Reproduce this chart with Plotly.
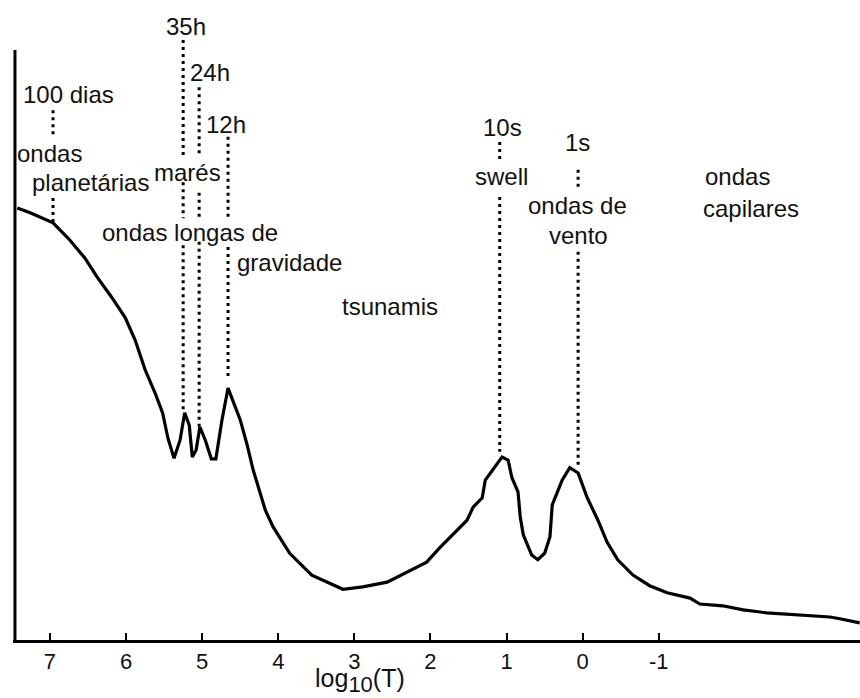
import plotly.graph_objects as go

# Ocean wave energy spectrum (arbitrary energy units) vs log10(period in s)
log_period = [7.43, 7.26, 6.96, 6.74, 6.54, 6.38, 6.19, 6.01, 5.88, 5.75, 5.62, 5.52,
              5.45, 5.37, 5.29, 5.23, 5.17, 5.13, 5.08, 5.03, 4.96, 4.88, 4.82, 4.74,
              4.66, 4.58, 4.50, 4.41, 4.33, 4.17, 4.07, 3.85, 3.56, 3.15, 2.89, 2.57,
              2.31, 2.05, 1.88, 1.74, 1.52, 1.44, 1.32, 1.28, 1.18, 1.06, 0.98, 0.93,
              0.85, 0.82, 0.78, 0.67, 0.59, 0.50, 0.43, 0.40, 0.27, 0.17, 0.06, -0.06,
              -0.20, -0.32, -0.46, -0.66, -0.88, -1.11, -1.41, -1.54, -1.84, -2.11,
              -2.42, -3.25, -3.38, -3.64]
energy = [73.2, 72.4, 70.7, 67.8, 64.7, 61.5, 58.1, 54.6, 50.8, 45.8, 41.9, 38.5,
          34.2, 30.8, 33.9, 38.5, 36.4, 31.0, 32.2, 36.1, 33.9, 30.7, 30.7, 37.3,
          42.7, 39.8, 37.3, 33.1, 28.8, 22.0, 19.2, 14.7, 11.0, 8.6, 9.0, 9.8,
          11.5, 13.2, 15.6, 17.5, 20.3, 22.5, 24.1, 27.1, 28.8, 31.0, 30.5, 27.5,
          25.1, 20.8, 17.8, 14.4, 13.6, 14.7, 17.5, 22.9, 27.1, 29.2, 28.3, 24.1,
          20.3, 16.6, 13.6, 11.0, 9.2, 8.0, 7.1, 6.1, 5.8, 5.1,
          4.6, 3.9, 3.6, 2.9]

tick_values = [7, 6, 5, 4, 3, 2, 1, 0, -1]
tick_labels = ["7", "6", "5", "4", "3", "2", "1", "0", "-1"]

# Dotted reference lines: period position and visible segments (energy from, to)
ref_x = [6.96, 5.25, 5.04, 4.66, 1.09, 0.06]
ref_segments = [
    [(89.8, 85.3), (74.9, 70.8)],
    [(101.7, 81.9), (77.6, 71.5), (66.9, 38.6)],
    [(93.7, 82.2), (75.8, 71.7), (67.5, 36.1)],
    [(85.3, 71.5), (66.6, 44.6)],
    [(84.4, 81.4), (75.1, 31.9)],
    [(79.7, 76.6), (65.8, 29.7)],
]

# Text labels
label_text = ["100 dias", "ondas", "planetárias", "35h", "24h", "12h", "marés",
              "ondas longas de", "gravidade", "tsunamis", "10s", "swell", "1s",
              "ondas de", "vento", "ondas", "capilares"]
label_x = [6.76, 7.00, 6.47, 5.21, 4.90, 4.69, 5.19, 5.16, 3.85, 2.53, 1.06, 1.07,
           0.07, 0.07, 0.06, -2.03, -2.21]
label_y = [92.4, 82.5, 77.6, 103.9, 96.1, 87.3, 79.3, 69.0, 63.9, 56.6, 86.9, 78.5,
           84.4, 73.7, 68.6, 78.5, 73.2]

FONT = "Liberation Sans, Arial, sans-serif"
X_LEFT, X_RIGHT = 7.486, -3.644
Y_TOP = 105.08
AXIS_X = 7.46
AXIS_TOP = 100

fig = go.Figure()

for x, segs in zip(ref_x, ref_segments):
    xs, ys = [], []
    for (a, b) in segs:
        xs += [x, x, None]
        ys += [a, b, None]
    fig.add_trace(go.Scatter(x=xs, y=ys, mode="lines",
                             line=dict(color="black", width=3, dash="3px,4px"),
                             hoverinfo="skip", showlegend=False))

fig.add_trace(go.Scatter(x=log_period, y=energy, mode="lines",
                         line=dict(color="black", width=3.2),
                         showlegend=False))

# left axis line (only up to the top of the frame)
fig.add_trace(go.Scatter(x=[AXIS_X, AXIS_X], y=[0, AXIS_TOP], mode="lines",
                         line=dict(color="black", width=3),
                         hoverinfo="skip", showlegend=False))

for t, x, y in zip(label_text, label_x, label_y):
    fig.add_annotation(x=x, y=y, text=t, showarrow=False,
                       font=dict(family=FONT, size=24, color="#111"),
                       xanchor="center", yanchor="middle")

fig.add_annotation(x=2.93, y=-0.066, xref="x", yref="paper",
                   text="log<sub><span style='font-size:22px'>10</span></sub>(T)",
                   showarrow=False,
                   font=dict(family=FONT, size=25, color="#111"),
                   xanchor="center", yanchor="middle")

fig.update_layout(
    width=860, height=698, autosize=False,
    margin=dict(l=13, r=0, t=20, b=58),
    paper_bgcolor="white", plot_bgcolor="white",
    xaxis=dict(range=[X_LEFT, X_RIGHT], tickvals=tick_values, ticktext=tick_labels,
               showgrid=False, zeroline=False, showline=True, linecolor="black",
               linewidth=3, ticks="inside", ticklen=7, tickwidth=2, tickcolor="black",
               tickfont=dict(family=FONT, size=22, color="#111")),
    yaxis=dict(range=[0, Y_TOP], showgrid=False, zeroline=False, showline=False,
               showticklabels=False, ticks=""),
)

fig.write_html("out.html")
